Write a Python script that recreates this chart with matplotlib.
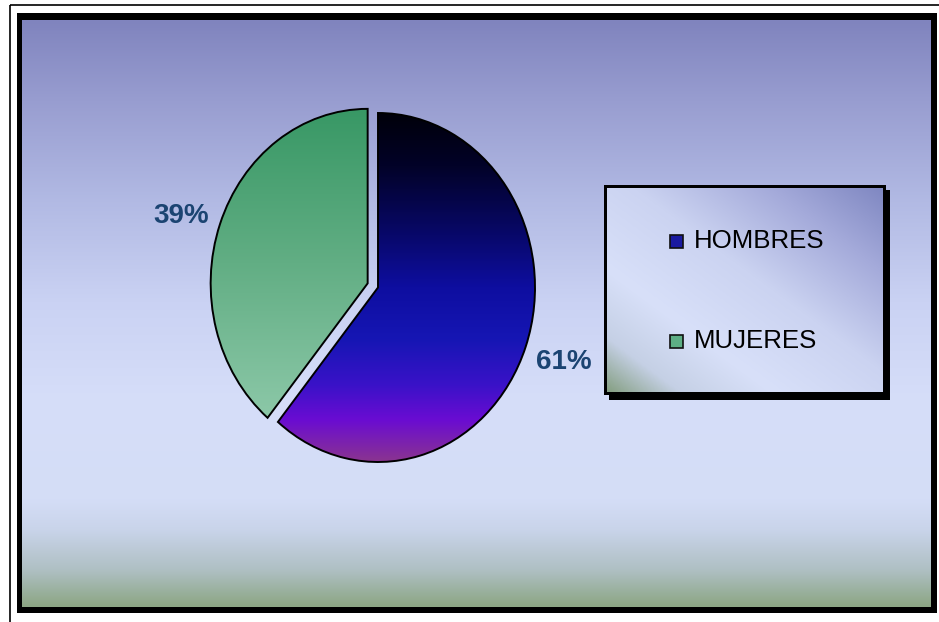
import numpy as np
import matplotlib.pyplot as plt
from matplotlib.colors import LinearSegmentedColormap
from matplotlib.patches import Rectangle

labels = ['HOMBRES', 'MUJERES']
values = [61, 39]
explode = [0, 0.07]

W, H = 939, 622
fig = plt.figure(figsize=(W / 100, H / 100), dpi=100)

# fondo en coordenadas de pixel
bg = fig.add_axes([0, 0, 1, 1])


def cmap(stops):
    return LinearSegmentedColormap.from_list('g', stops)


vert = np.linspace(0, 1, 256).reshape(-1, 1)

# marco exterior fino + marco grueso con sombra
bg.add_patch(Rectangle((10, 5), 940, 640, fill=False, ec='black', lw=1.2, zorder=1))
bg.add_patch(Rectangle((17, 13), 920, 600, fc='black', ec='none', zorder=1))
bg_stops = [(0, '#8084be'), (0.136, '#989dd0'), (0.31, '#b2bae4'), (0.48, '#cad2f3'),
            (0.65, '#d6def9'), (0.82, '#d4ddf6'), (0.87, '#c9d4ea'), (0.94, '#aebfc2'),
            (1, '#8ca684')]
bg.imshow(vert, cmap=cmap(bg_stops), extent=(22, 931, 607, 20), aspect='auto',
          interpolation='bicubic', zorder=2)

# leyenda
bg.add_patch(Rectangle((609, 190), 281, 210, fc='black', ec='none', zorder=3))
bg.add_patch(Rectangle((604, 185), 282, 210, fc='black', ec='none', zorder=3))
u, v = np.meshgrid(np.linspace(0, 1, 200), np.linspace(0, 1, 150))
s = (u + (1 - v)) / 2
leg_stops = [(0, '#86a084'), (0.13, '#c5d0e5'), (0.3, '#d8e0f9'), (0.55, '#cbd3f1'),
             (0.8, '#a4aada'), (1, '#8088c2')]
bg.imshow(s, cmap=cmap(leg_stops), extent=(607, 883, 392, 188), aspect='auto',
          interpolation='bicubic', zorder=4)
leg_colors = ['#1a1aa0', '#5dae84']
for i, (lab, col) in enumerate(zip(labels, leg_colors)):
    y = 241 + i * 100
    bg.add_patch(Rectangle((670, y - 6.5), 13, 13, fc=col, ec='#101010', lw=1.2, zorder=5))
    bg.text(694, y, lab, fontsize=18.6, family='Liberation Sans', color='black',
            va='center', ha='left', zorder=5)

bg.set_xlim(0, W)
bg.set_ylim(H, 0)
bg.axis('off')

# pastel (eliptico, como en la imagen)
cx, cy, rx, ry = 378, 287.5, 157, 174.5
pax = fig.add_axes([(cx - 1.2 * rx) / W, 1 - (cy + 1.2 * ry) / H,
                    2.4 * rx / W, 2.4 * ry / H])
pax.patch.set_alpha(0)
wedges, texts, pcts = pax.pie(values, explode=explode, startangle=90, counterclock=False,
                              autopct='%1.0f%%', pctdistance=1.26,
                              wedgeprops=dict(ec='black', lw=1.4),
                              textprops=dict(fontsize=20, fontweight='bold',
                                             family='Liberation Sans', color='#1b4472'))
pax.set_aspect('auto')
# pequeño ajuste de la etiqueta de MUJERES
px, py = pcts[1].get_position()
pcts[1].set_position((px, py - 0.04))

slice_stops = [
    [(0, '#00000a'), (0.15, '#020228'), (0.35, '#08086a'), (0.5, '#0e0ea0'),
     (0.65, '#1616b4'), (0.78, '#3a12c8'), (0.88, '#6a0cd2'), (1, '#8a3490')],
    [(0, '#389865'), (0.5, '#62ae84'), (1, '#8cc8a8')],
]
for w, st in zip(wedges, slice_stops):
    ext = w.get_path().get_extents()
    w.set_facecolor('none')
    im = pax.imshow(vert, cmap=cmap(st), extent=(ext.x0, ext.x1, ext.y0, ext.y1),
                    aspect='auto', interpolation='bicubic', zorder=w.get_zorder() - 0.1)
    im.set_clip_path(w)
pax.set_xlim(-1.2, 1.2)
pax.set_ylim(-1.2, 1.2)
pax.axis('off')

fig.savefig('out.png', dpi=100)
